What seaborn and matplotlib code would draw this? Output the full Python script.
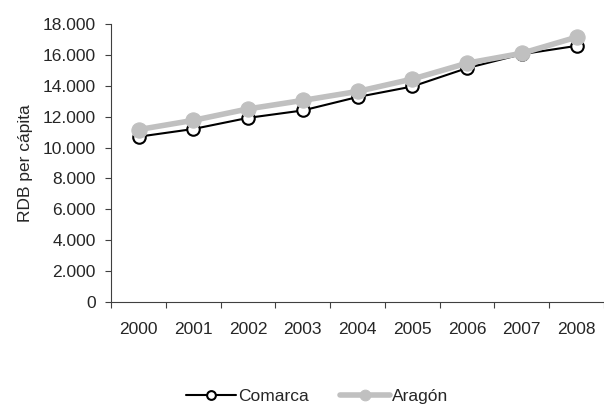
import pandas as pd
import numpy as np
import matplotlib
matplotlib.use("Agg")
import matplotlib.pyplot as plt
import seaborn as sns
from matplotlib.ticker import FuncFormatter, FixedLocator

years = ["2000", "2001", "2002", "2003", "2004", "2005", "2006", "2007", "2008"]
comarca = [10700, 11200, 11920, 12400, 13270, 13950, 15140, 16040, 16580]
aragon = [11160, 11760, 12500, 13050, 13630, 14430, 15460, 16100, 17140]

sns.set_style("ticks")
plt.rcParams['font.family'] = ['Liberation Sans', 'DejaVu Sans']
fs = 12.5

fig = plt.figure(figsize=(6.04, 4.05), dpi=100)
ax = fig.add_axes([0.184, 0.254, 0.816, 0.687])

x = np.arange(len(years))
sns.lineplot(x=x, y=aragon, ax=ax, color="#c0c0c0", linewidth=4, marker="o",
             markersize=11, markeredgecolor="#c0c0c0", label="Aragón", zorder=2)
sns.lineplot(x=x, y=comarca, ax=ax, color="black", linewidth=1.5, marker="o",
             markersize=9, markerfacecolor="white", markeredgecolor="black",
             markeredgewidth=1.5, label="Comarca", zorder=1)

ax.set_xlim(-0.5, len(years) - 0.5)
ax.set_ylim(0, 18000)
ax.set_yticks(range(0, 18001, 2000))
ax.yaxis.set_major_formatter(FuncFormatter(lambda v, p: f"{int(v):,}".replace(",", ".")))
ax.xaxis.set_major_locator(FixedLocator(np.arange(-0.5, len(years), 1)))
ax.set_xticklabels([])
ax.xaxis.set_minor_locator(FixedLocator(x))
ax.set_xticklabels(years, minor=True)
ax.tick_params(axis="x", which="minor", length=0, pad=14, labelsize=fs)
ax.tick_params(axis="x", which="major", length=4, color="#404040")
ax.tick_params(axis="y", length=4, color="#404040", labelsize=fs, pad=7)
for s in ["left", "bottom"]:
    ax.spines[s].set_color("#404040")
sns.despine(ax=ax)
ax.set_ylabel("RDB per cápita", fontsize=fs, labelpad=7)
ax.set_xlabel("")

handles, labels = ax.get_legend_handles_labels()
order = [labels.index("Comarca"), labels.index("Aragón")]
ax.legend([handles[i] for i in order], [labels[i] for i in order],
          loc="lower center", bbox_to_anchor=(0.525, -0.037), bbox_transform=fig.transFigure,
          ncol=2, frameon=False, fontsize=fs, handlelength=2.9, columnspacing=1.8,
          handletextpad=0.1, markerscale=0.7)

fig.savefig("out.png", dpi=100)
